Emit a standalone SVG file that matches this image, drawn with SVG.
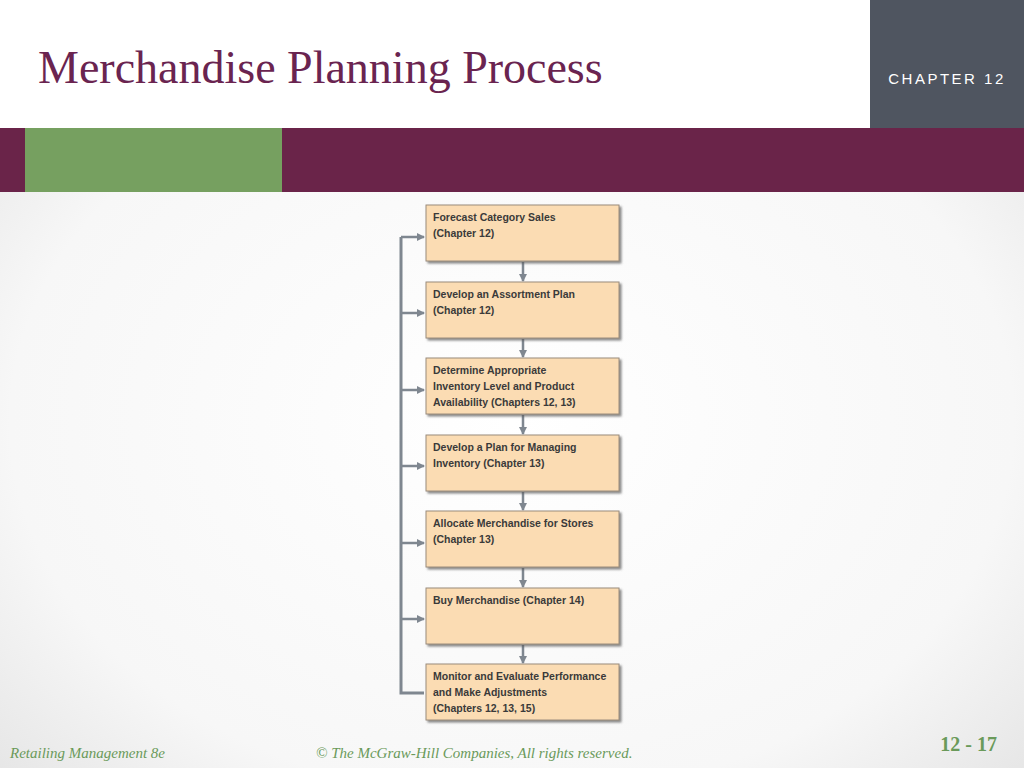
<svg xmlns="http://www.w3.org/2000/svg" width="1024" height="768" viewBox="0 0 1024 768">
<defs>
<radialGradient id="bg" cx="50%" cy="55%" r="70%"><stop offset="0" stop-color="#ffffff"/><stop offset="0.7" stop-color="#f7f7f7"/><stop offset="1" stop-color="#e4e4e4"/></radialGradient>
<marker id="ah" markerWidth="8" markerHeight="8" refX="7" refY="4" orient="auto" markerUnits="userSpaceOnUse"><path d="M0,0 L8,4 L0,8 z" fill="#7f8790"/></marker>
<filter id="sh" x="-5%" y="-5%" width="115%" height="125%"><feDropShadow dx="2" dy="2" stdDeviation="1" flood-color="#555" flood-opacity="0.7"/></filter>
</defs>
<style>
.box{fill:#fbdcb3;stroke:#9a8c7c;stroke-width:1;filter:url(#sh)}
.t{font-family:"Liberation Sans",Arial,sans-serif;font-weight:bold;font-size:10.5px;fill:#3a3a3a}
.c{stroke:#7f8790;stroke-width:3;fill:none}
.a{stroke:#7f8790;stroke-width:2.5;fill:none;marker-end:url(#ah)}
.ft{font-family:"Liberation Serif",serif;font-style:italic;font-size:15px;fill:#6a9a5a}
</style>
<rect width="1024" height="768" fill="url(#bg)"/>
<rect x="0" y="0" width="870" height="128" fill="#ffffff"/>
<text x="38" y="83" font-family="Liberation Serif,serif" font-size="46" fill="#6a2450">Merchandise Planning Process</text>
<rect x="870" y="0" width="154" height="128" fill="#4f5560"/>
<text x="947" y="84" text-anchor="middle" font-family="Liberation Sans,Arial,sans-serif" font-size="15" letter-spacing="2.5" fill="#ffffff">CHAPTER 12</text>
<rect x="0" y="128" width="1024" height="64" fill="#6a2449"/>
<rect x="25" y="128" width="257" height="64" fill="#76a060"/>
<g id="connectors">
<path class="c" d="M401,237 V693 H424"/>
<path class="a" d="M401,237 H424"/><path class="a" d="M401,313 H424"/><path class="a" d="M401,390 H424"/><path class="a" d="M401,466 H424"/><path class="a" d="M401,543 H424"/><path class="a" d="M401,619 H424"/>
<path class="a" d="M523,262 V281"/><path class="a" d="M523,339 V357"/><path class="a" d="M523,415 V434"/><path class="a" d="M523,492 V510"/><path class="a" d="M523,568 V587"/><path class="a" d="M523,645 V663"/>
</g>
<g id="n1"><rect class="box" x="426" y="205" width="193" height="56"/><text class="t" x="433" y="221">Forecast Category Sales</text><text class="t" x="433" y="237">(Chapter 12)</text></g>
<g id="n2"><rect class="box" x="426" y="282" width="193" height="56"/><text class="t" x="433" y="298">Develop an Assortment Plan</text><text class="t" x="433" y="314">(Chapter 12)</text></g>
<g id="n3"><rect class="box" x="426" y="358" width="193" height="56"/><text class="t" x="433" y="374">Determine Appropriate</text><text class="t" x="433" y="390">Inventory Level and Product</text><text class="t" x="433" y="406">Availability (Chapters 12, 13)</text></g>
<g id="n4"><rect class="box" x="426" y="435" width="193" height="56"/><text class="t" x="433" y="451">Develop a Plan for Managing</text><text class="t" x="433" y="467">Inventory (Chapter 13)</text></g>
<g id="n5"><rect class="box" x="426" y="511" width="193" height="56"/><text class="t" x="433" y="527">Allocate Merchandise for Stores</text><text class="t" x="433" y="543">(Chapter 13)</text></g>
<g id="n6"><rect class="box" x="426" y="588" width="193" height="56"/><text class="t" x="433" y="604">Buy Merchandise (Chapter 14)</text></g>
<g id="n7"><rect class="box" x="426" y="664" width="193" height="56"/><text class="t" x="433" y="680">Monitor and Evaluate Performance</text><text class="t" x="433" y="696">and Make Adjustments</text><text class="t" x="433" y="712">(Chapters 12, 13, 15)</text></g>
<text class="ft" x="10" y="758">Retailing Management 8e</text>
<text class="ft" x="316" y="758">© The McGraw-Hill Companies, All rights reserved.</text>
<text x="997" y="751" text-anchor="end" font-family="Liberation Serif,serif" font-weight="bold" font-size="20" fill="#6a9a5a">12 - 17</text>
</svg>
